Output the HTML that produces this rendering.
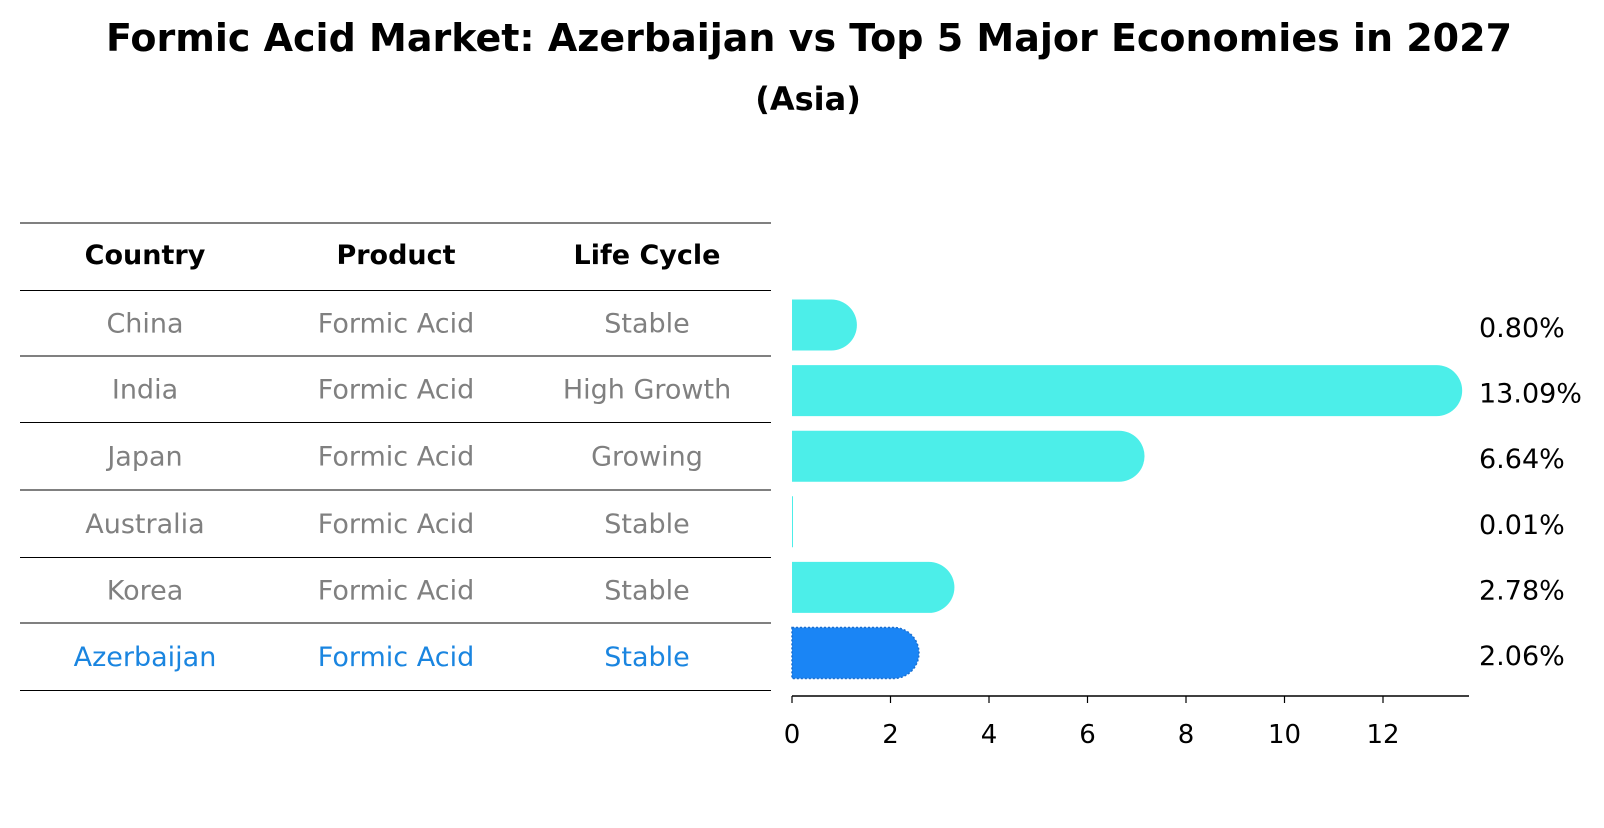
<!DOCTYPE html>
<html><head><meta charset="utf-8"><style>
body{margin:0;background:#fff;width:1604px;height:823px;overflow:hidden;font-family:"Liberation Sans","DejaVu Sans",sans-serif}
</style></head><body>
<svg width="1604" height="823" xmlns="http://www.w3.org/2000/svg" font-family="DejaVu Sans, Liberation Sans, sans-serif">
<text x="809" y="51" text-anchor="middle" font-size="38" font-weight="bold">Formic Acid Market: Azerbaijan vs Top 5 Major Economies in 2027</text>
<text x="808" y="110" text-anchor="middle" font-size="32" font-weight="bold">(Asia)</text>
<g id="table"></g>
<g id="bars"></g>
<g id="axis"></g>
</svg>
<script>
const countries=["China","India","Japan","Australia","Korea","Azerbaijan"];
const products=["Formic Acid","Formic Acid","Formic Acid","Formic Acid","Formic Acid","Formic Acid"];
const lifeCycles=["Stable","High Growth","Growing","Stable","Stable","Stable"];
const values=[0.80,13.09,6.64,0.01,2.78,2.06];
const ticks=[0,2,4,6,8,10,12];
const NS="http://www.w3.org/2000/svg";
const x0=792,ppu=49.25,h=51,cap=25.5;
const xs=v=>x0+v*ppu;
const rowY=i=>325+i*65.6;
function mk(t,a,p){const e=document.createElementNS(NS,t);for(const k in a)e.setAttribute(k,a[k]);p.appendChild(e);return e;}
const tb=document.getElementById('table');
const lines=[223,290.5,356,422.5,490,557.5,623,690.5];
lines.forEach(y=>{const l=mk('line',{x1:20,x2:771,y1:y,y2:y,stroke:'#000','stroke-width':1},tb);

});
const cx=[145,396,647];
["Country","Product","Life Cycle"].forEach((s,j)=>{const t=mk('text',{x:cx[j],y:264,'text-anchor':'middle','font-size':27,'font-weight':'bold'},tb);t.textContent=s;

});
countries.forEach((c,i)=>{const y=(lines[i+1]+lines[i+2])/2+9;const col=i===5?'#1a85e0':'#808080';
[c,products[i],lifeCycles[i]].forEach((s,j)=>{const t=mk('text',{x:cx[j],y:y,'text-anchor':'middle','font-size':27,fill:col},tb);t.textContent=s;

});});
const bg=document.getElementById('bars');
values.forEach((v,i)=>{const y=rowY(i)-h/2;const w=xs(v)-x0;const fill=i===5?'#1a85f5':'#4ceee9';
let d;
if(w<0.5){d=`M${x0},${y}h1v${h}h-1z`;}
else{d=`M${x0},${y}H${x0+w}A${cap},${cap} 0 0 1 ${x0+w},${y+h}H${x0}Z`;}
const p=mk('path',{d:d,fill:fill},bg);
if(i===5){p.setAttribute('stroke','#1a6fd0');p.setAttribute('stroke-width','1.5');p.setAttribute('stroke-dasharray','2,2');}


const t=mk('text',{x:1479,y:rowY(i)+12,'font-size':27},bg);t.textContent=v.toFixed(2)+'%';

});
const ax=document.getElementById('axis');
const al=mk('line',{x1:x0,x2:1469,y1:696,y2:696,stroke:'#000','stroke-width':1.5},ax);


ticks.forEach(v=>{const tl=mk('line',{x1:xs(v),x2:xs(v),y1:696,y2:703,stroke:'#000','stroke-width':1.2},ax);


const t=mk('text',{x:xs(v),y:743,'text-anchor':'middle','font-size':26},ax);t.textContent=v;

});
</script>
</body></html>
